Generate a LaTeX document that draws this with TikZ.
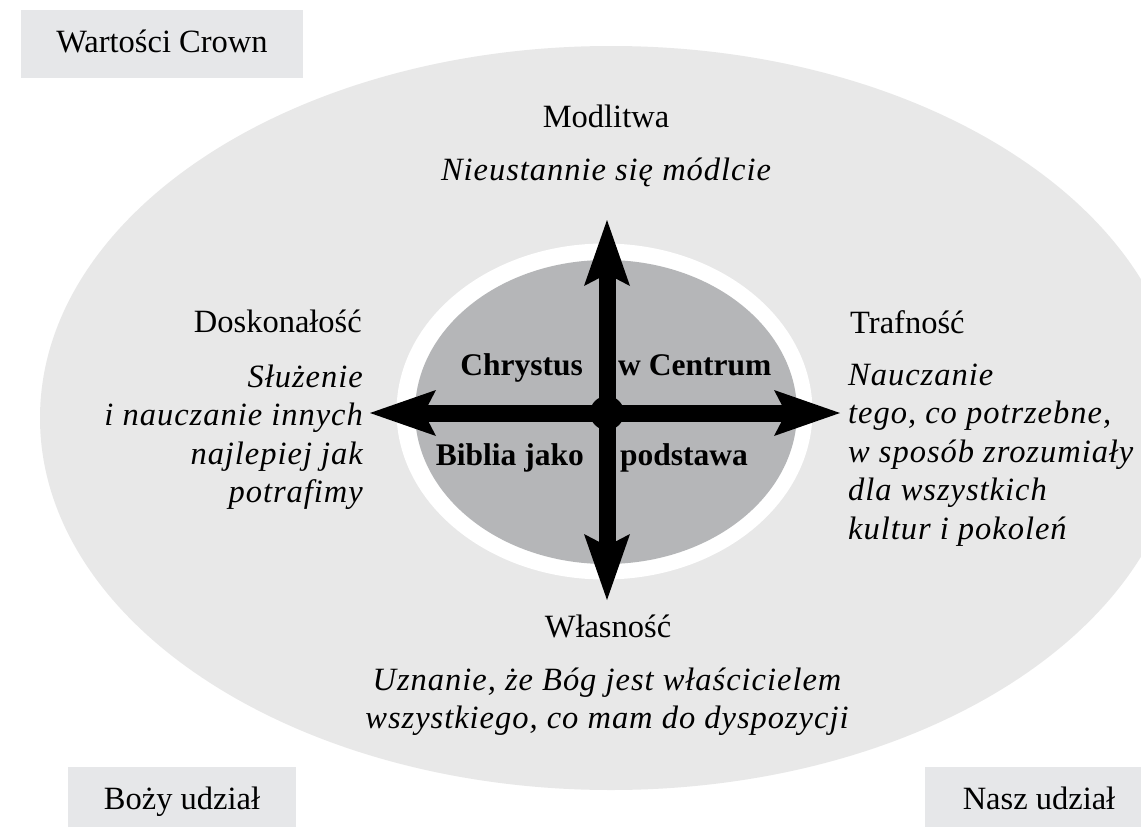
\documentclass[tikz,border=0pt]{standalone}
\usepackage{fontspec}
\setmainfont{Liberation Serif}
\newfontfamily\itsp{Liberation Serif}[LetterSpace=3.0]
\usetikzlibrary{arrows.meta}
\definecolor{bigell}{HTML}{E8E8E8}
\definecolor{boxgray}{HTML}{E6E7E9}
\definecolor{innergray}{HTML}{B5B6B8}
\begin{document}
\begin{tikzpicture}[x=1pt,y=-1pt,
  reg/.style={inner sep=0pt, font=\fontsize{32.5}{38}\selectfont},
  itl/.style={inner sep=0pt, font=\itsp\itshape\fontsize{32.5}{38.5}\selectfont},
  bld/.style={inner sep=0pt, font=\bfseries\fontsize{31.5}{36}\selectfont},
  labelbox/.style={reg, fill=boxgray, draw=none, minimum height=68pt, text height=22pt, text depth=6pt},
  bigarrow/.style={line width=17pt, -{Stealth[length=66pt,width=46pt,inset=12pt,line width=0pt]}}]
\useasboundingbox (0,0) rectangle (1141,827);
\fill[white] (0,0) rectangle (1141,827);
% ellipses
\fill[bigell] (611,418) ellipse [x radius=571pt, y radius=372pt];
\fill[white] (604.5,411.5) ellipse [x radius=208pt, y radius=168pt];
\fill[innergray] (606,412) ellipse [x radius=191pt, y radius=152pt];
% corner boxes
\node[labelbox, minimum width=282pt] (wc) at (162,44) {Wartości Crown};
\node[labelbox, minimum width=228pt] (bu) at (182,801) {Boży udział};
\node[labelbox, minimum width=228pt] (nu) at (1039,801) {Nasz udział};
% arrows
\coordinate (c) at (607,413);
\coordinate (tN) at (607,220);
\coordinate (tS) at (607,600);
\coordinate (tW) at (370,413);
\coordinate (tE) at (840,413);
\draw[bigarrow] (c) -- (tN);
\draw[bigarrow] (c) -- (tS);
\draw[bigarrow] (c) -- (tW);
\draw[bigarrow] (c) -- (tE);
\fill (c) circle [radius=17pt];
% centre labels
\node[bld, anchor=base east] (chr) at (583,375) {Chrystus};
\node[bld, anchor=base west] (wce) at (618,375) {w Centrum};
\node[bld, anchor=base east] (bib) at (584,465) {Biblia jako};
\node[bld, anchor=base west] (pod) at (620,465) {podstawa};
% top
\node[reg, anchor=base] (mod) at (606,127) {Modlitwa};
\node[itl, anchor=base] (modi) at (606,180) {Nieustannie się módlcie};
% left
\node[reg, anchor=base east] (dos) at (362,332) {Doskonałość};
\node[itl, anchor=base east] (dosi) at (363,387)
  {\begin{tabular}[t]{@{}r@{}}Służenie\\ i nauczanie innych\\ najlepiej jak\\ potrafimy\end{tabular}};
% right
\node[reg, anchor=base west] (tra) at (850,333) {Trafność};
\node[itl, anchor=base west] (trai) at (848,385)
  {\begin{tabular}[t]{@{}l@{}}Nauczanie\\ tego, co potrzebne,\\ w sposób zrozumiały\\ dla wszystkich\\ kultur i pokoleń\end{tabular}};
% bottom
\node[reg, anchor=base] (wla) at (608,637) {Własność};
\node[itl, anchor=base] (wlai) at (607,690)
  {\begin{tabular}[t]{@{}c@{}}Uznanie, że Bóg jest właścicielem\\ wszystkiego, co mam do dyspozycji\end{tabular}};
\end{tikzpicture}
\end{document}
